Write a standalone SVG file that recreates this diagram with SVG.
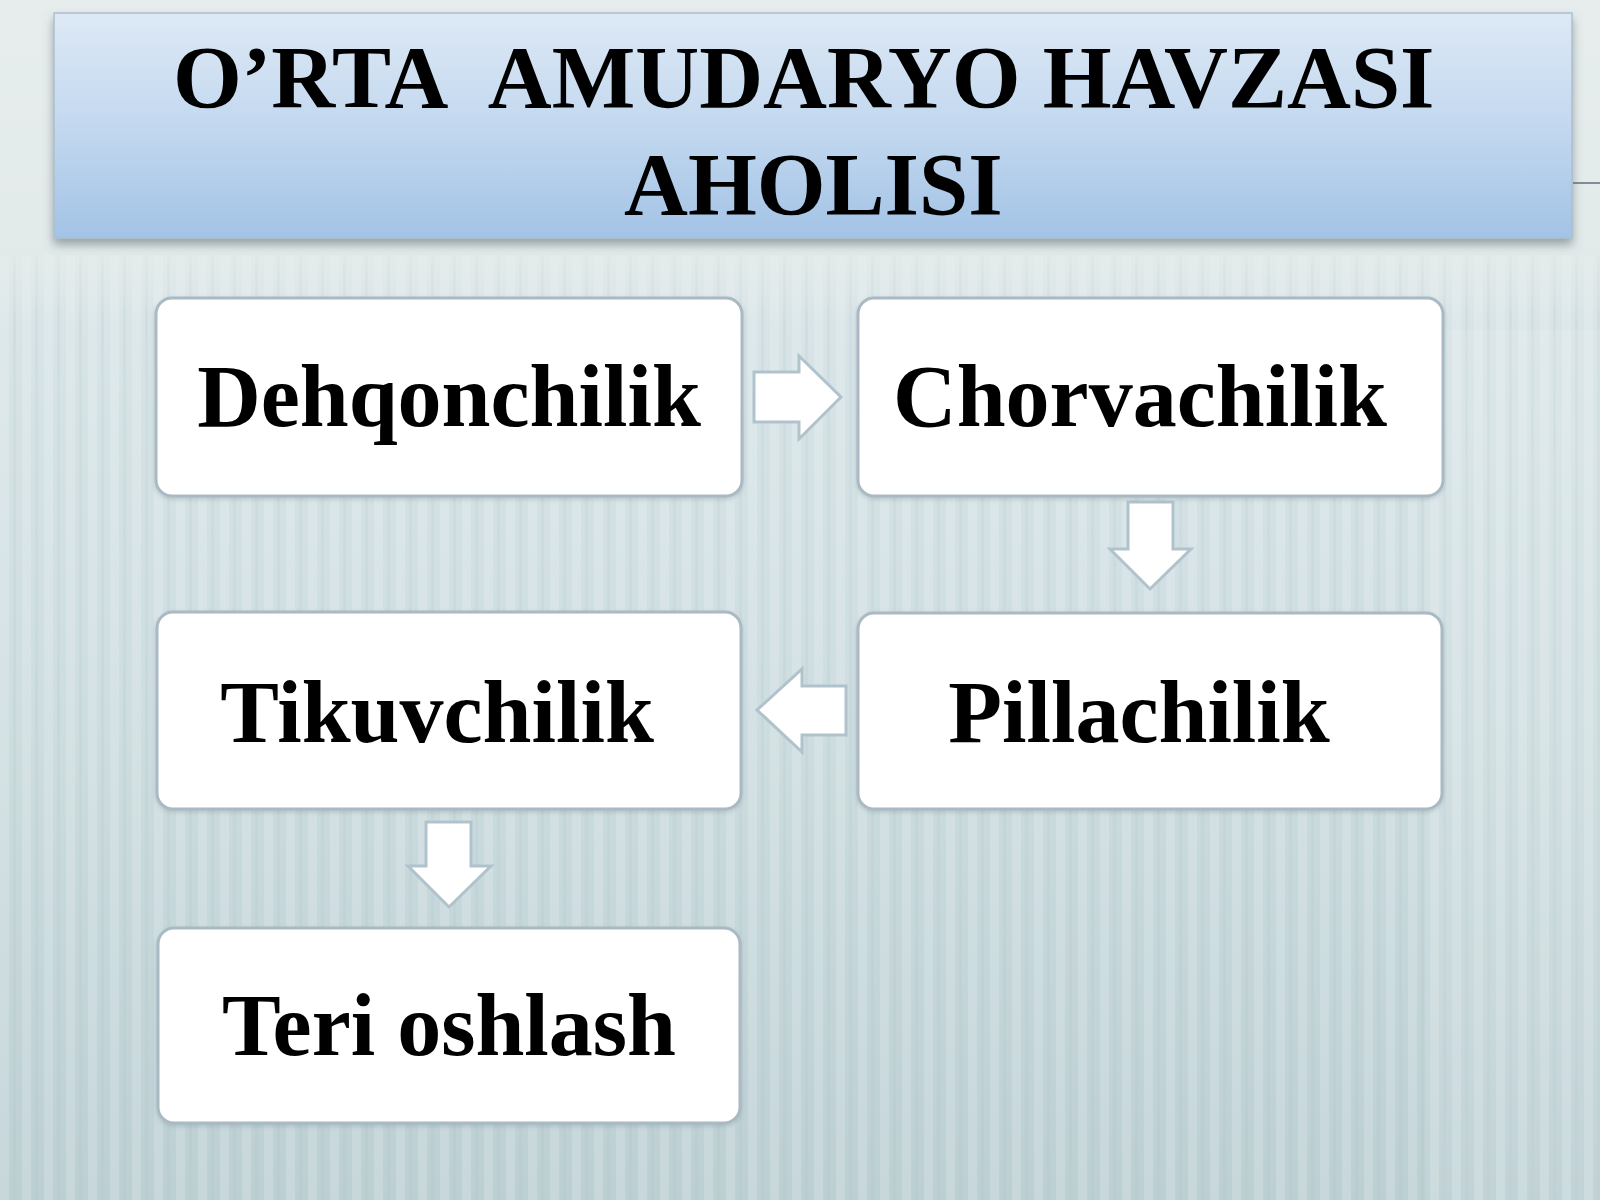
<svg xmlns="http://www.w3.org/2000/svg" width="1600" height="1200" viewBox="0 0 1600 1200">
<style>
.box{fill:#ffffff;stroke:#a9bac4;stroke-width:3}
.lbl{font-family:"Liberation Serif","Times New Roman",serif;font-weight:bold;font-size:88px;fill:#000000;text-anchor:middle}
.ttl{font-family:"Liberation Serif","Times New Roman",serif;font-weight:bold;font-size:88.5px;fill:#000000}
.arr{fill:#ffffff;stroke:#b0c3cd;stroke-width:3;stroke-linejoin:miter}
</style>
<defs>
<linearGradient id="bg" x1="0" y1="0" x2="0" y2="1">
<stop offset="0" stop-color="#e7eded"/>
<stop offset="0.2" stop-color="#e3eaea"/>
<stop offset="0.27" stop-color="#d8e4e7"/>
<stop offset="0.6" stop-color="#cddde0"/>
<stop offset="1" stop-color="#bccfd3"/>
</linearGradient>
<linearGradient id="tg" x1="0" y1="0" x2="0" y2="1">
<stop offset="0" stop-color="#dde9f5"/>
<stop offset="0.5" stop-color="#c3d8ef"/>
<stop offset="1" stop-color="#a3c3e6"/>
</linearGradient>
<pattern id="stripes" x="0" y="0" width="22" height="40" patternUnits="userSpaceOnUse">
<rect x="0" y="0" width="9" height="40" fill="#ffffff" opacity="0.16"/>
<rect x="13" y="0" width="3" height="40" fill="#9fb6bc" opacity="0.13"/>
</pattern>
<linearGradient id="fade" x1="0" y1="0" x2="0" y2="1">
<stop offset="0" stop-color="#e3eaea" stop-opacity="0.6"/>
<stop offset="0.06" stop-color="#e3eaea" stop-opacity="0"/>
<stop offset="1" stop-color="#e3eaea" stop-opacity="0"/>
</linearGradient>
<filter id="sh" x="-5%" y="-10%" width="110%" height="130%">
<feDropShadow dx="0" dy="6" stdDeviation="5" flood-color="#5a6a70" flood-opacity="0.55"/>
</filter>
<filter id="bsh" x="-5%" y="-5%" width="110%" height="115%">
<feDropShadow dx="0" dy="2" stdDeviation="2" flood-color="#7f9098" flood-opacity="0.35"/>
</filter>
</defs>
<g id="background">
<rect x="0" y="0" width="1600" height="1200" fill="url(#bg)"/>
<rect x="0" y="255" width="1600" height="945" fill="url(#stripes)"/>
<rect x="0" y="255" width="1600" height="945" fill="url(#fade)"/>
<rect x="1425" y="330" width="175" height="870" fill="#ffffff" opacity="0.1"/>
<line x1="1573" y1="183" x2="1600" y2="183" stroke="#7f8e94" stroke-width="2"/>
</g>
<g id="title">
<rect x="54" y="13" width="1518" height="225" fill="url(#tg)" stroke="#aebfcf" stroke-width="1.5" filter="url(#sh)"/>
<text class="ttl" x="173" y="107">O’RTA&#160; AMUDARYO HAVZASI</text>
<text class="ttl" x="624" y="214">AHOLISI</text>
</g>
<g id="connectors">
<path class="arr" d="M754,372 L799,372 L799,356 L841,397 L799,439 L799,422 L754,422 Z"/>
<path class="arr" d="M1128,502 L1173,502 L1173,549 L1191,549 L1150,589 L1110,549 L1128,549 Z"/>
<path class="arr" d="M846,686 L802,686 L802,669 L757,710 L802,752 L802,735 L846,735 Z"/>
<path class="arr" d="M426,822 L471,822 L471,866 L491,866 L449,907 L408,866 L426,866 Z"/>
</g>
<g id="node-dehqonchilik">
<rect class="box" x="156" y="298" width="586" height="198" rx="16" filter="url(#bsh)"/>
<text class="lbl" x="449" y="426">Dehqonchilik</text>
</g>
<g id="node-chorvachilik">
<rect class="box" x="858" y="298" width="585" height="198" rx="16" filter="url(#bsh)"/>
<text class="lbl" x="1140" y="426">Chorvachilik</text>
</g>
<g id="node-pillachilik">
<rect class="box" x="858" y="613" width="584" height="196" rx="16" filter="url(#bsh)"/>
<text class="lbl" x="1139" y="742">Pillachilik</text>
</g>
<g id="node-tikuvchilik">
<rect class="box" x="157" y="612" width="584" height="197" rx="16" filter="url(#bsh)"/>
<text class="lbl" x="437" y="742">Tikuvchilik</text>
</g>
<g id="node-teri-oshlash">
<rect class="box" x="158" y="928" width="582" height="195" rx="16" filter="url(#bsh)"/>
<text class="lbl" x="449" y="1055">Teri oshlash</text>
</g>
</svg>
